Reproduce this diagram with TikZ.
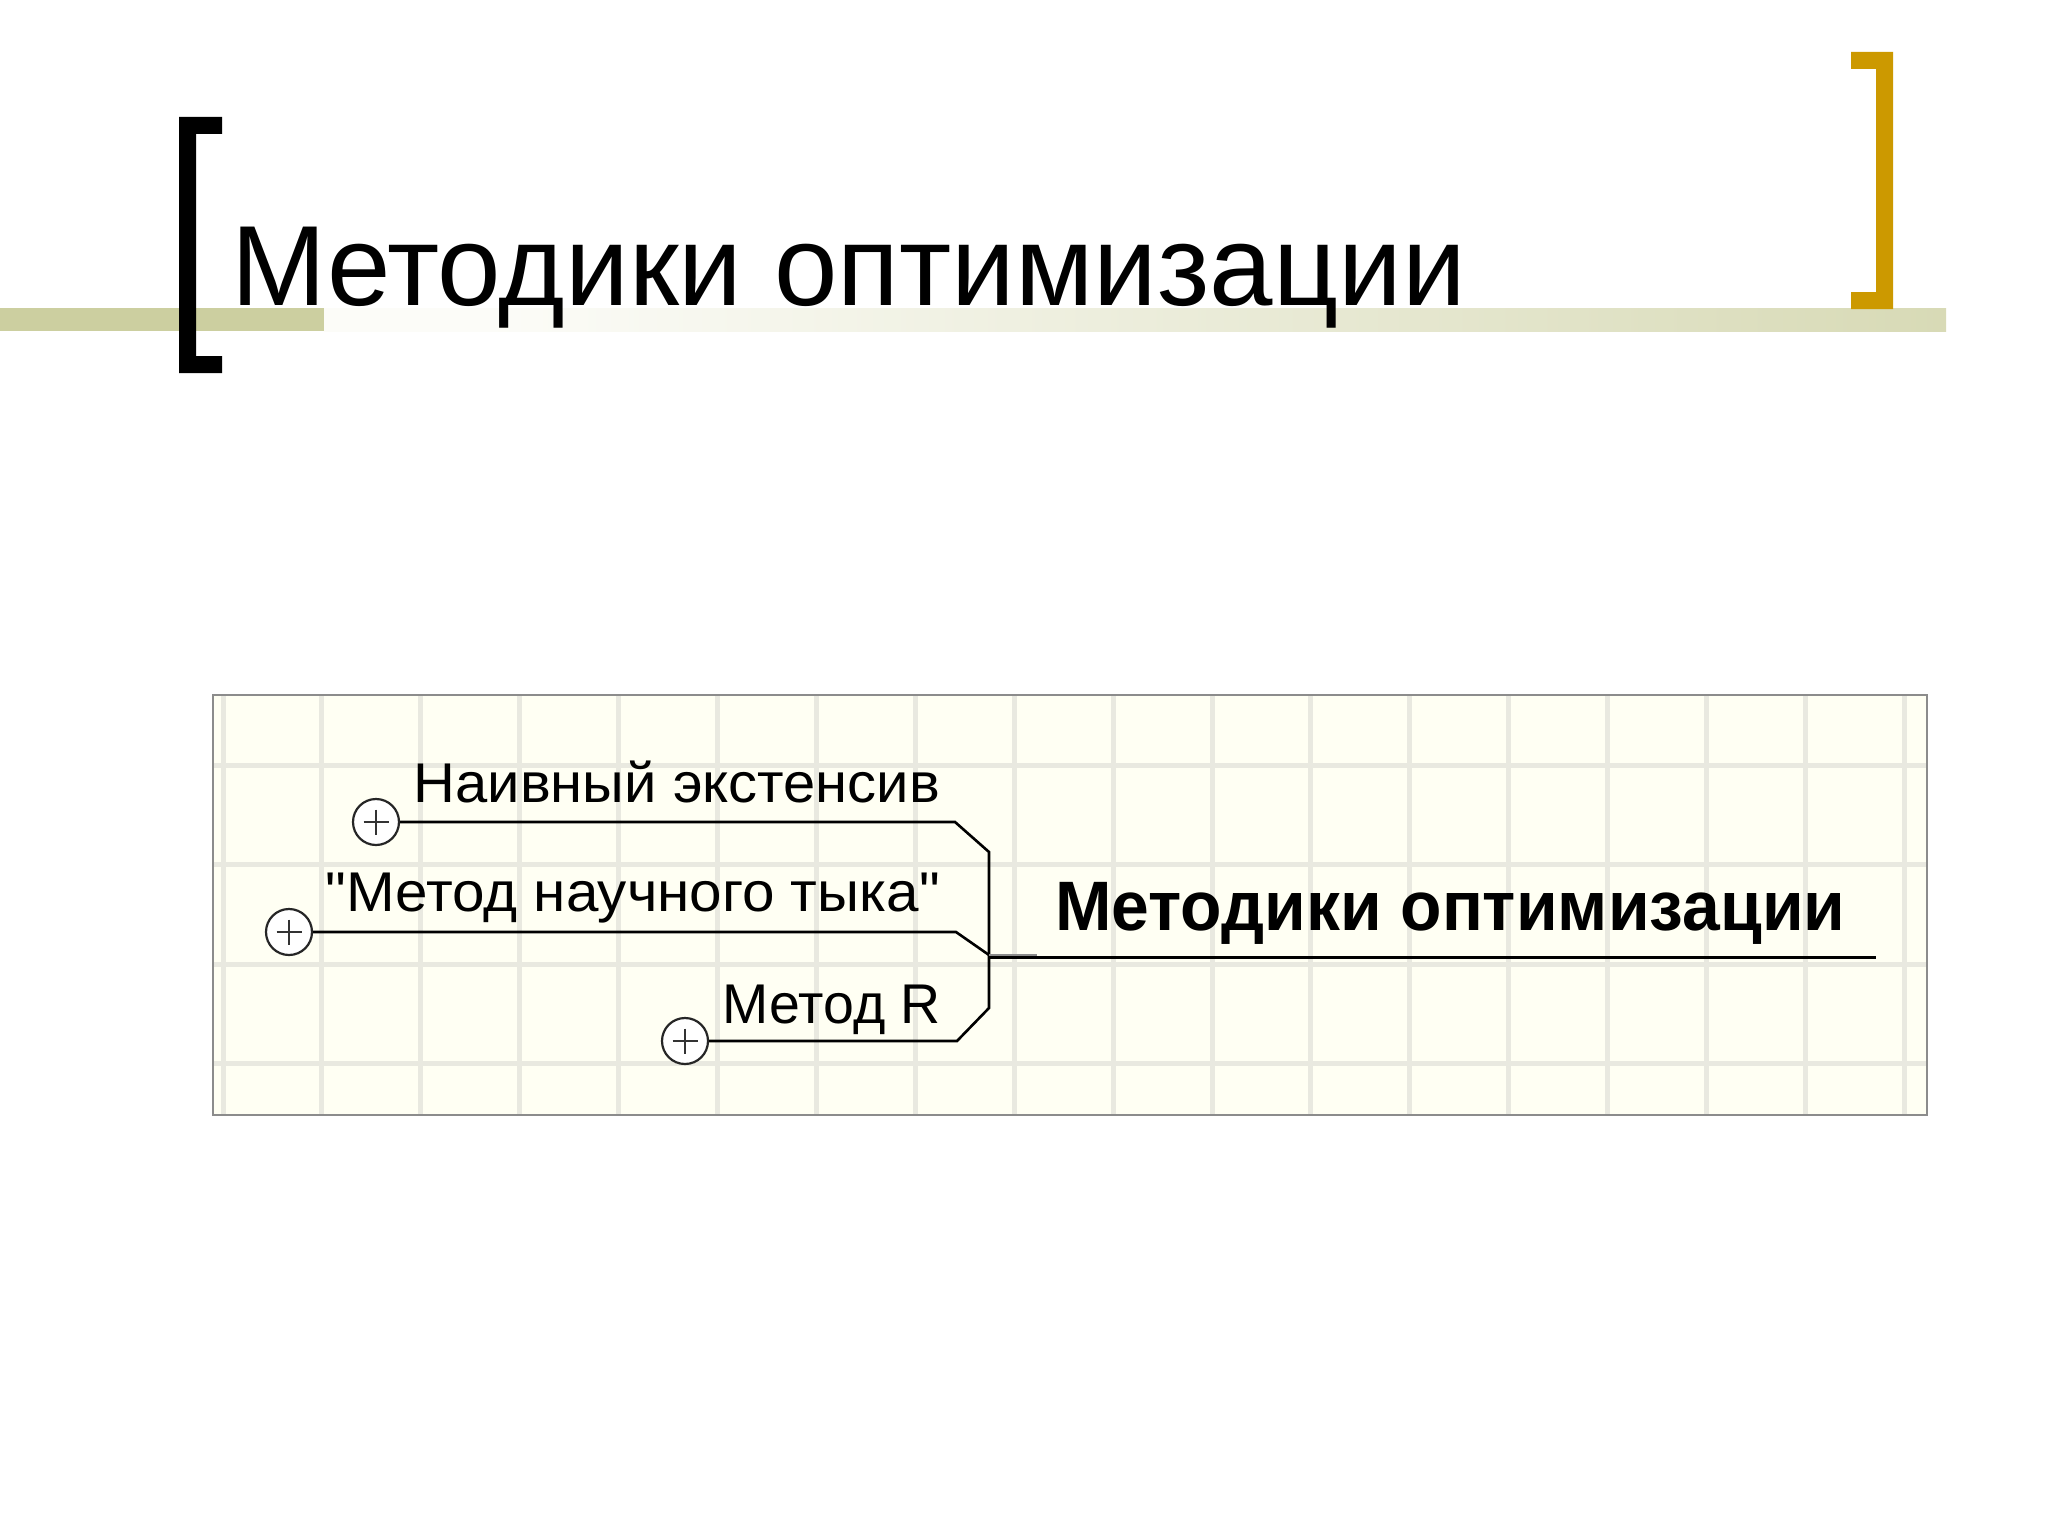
\documentclass[tikz,border=0pt]{standalone}
\usepackage{fontspec}
\usepackage{graphicx}
\setmainfont{Liberation Sans}
\usetikzlibrary{calc}
\definecolor{olivebar}{RGB}{204,207,160}
\definecolor{goldbr}{RGB}{204,153,0}
\definecolor{gridcol}{RGB}{233,233,224}
\definecolor{paper}{RGB}{255,255,243}
\definecolor{boxborder}{RGB}{140,140,140}
\definecolor{barlight}{RGB}{252,252,248}
\newcommand\sq{\XeTeXglyph\XeTeXglyphindex "quotedbl" \relax}
\pgfdeclarehorizontalshading{barshade}{100bp}{color(0bp)=(barlight); color(30bp)=(barlight); color(55bp)=(olivebar!45!white); color(80bp)=(olivebar!85!white); color(100bp)=(olivebar)}
\tikzset{
  plusnode/.style={circle, draw=black!85, line width=2.2pt, fill=white, minimum size=46pt, inner sep=0pt,
    path picture={\draw[line width=2pt, black!80] ($(path picture bounding box.center)+(-12.5,0)$) -- ++(25,0)
       ($(path picture bounding box.center)+(0,-12.5)$) -- ++(0,25);}},
  conn/.style={line width=2.6pt, black, line join=miter},
  topicline/.style={line width=3pt, black},
  lbl/.style={anchor=base east, inner sep=0pt, font=\fontsize{56}{60}\selectfont},
  mainlbl/.style={anchor=base west, inner sep=0pt, font=\fontsize{70}{76}\selectfont\bfseries},
  titlelbl/.style={anchor=base west, inner sep=0pt, font=\fontsize{114}{120}\selectfont},
}
\begin{document}
\begin{tikzpicture}[x=1pt,y=-1pt]
\useasboundingbox (0,0) rectangle (2048,1536);
\fill[white] (0,0) rectangle (2048,1536);
% title bar
\fill[olivebar] (0,308) rectangle (324,331);
\shade[shading=barshade] (324,308) rectangle (1946,331);
% brackets
\fill[black] (179,117) -- (222,117) -- (222,134) -- (196,134) -- (196,356) -- (222,356) -- (222,373) -- (179,373) -- cycle;
\fill[goldbr] (1893,52) -- (1851,52) -- (1851,69) -- (1876,69) -- (1876,292) -- (1851,292) -- (1851,309) -- (1893,309) -- cycle;
% title
\node[titlelbl] (title) at (231,305) {Методики оптимизации};
% diagram box
\fill[paper] (213,695) rectangle (1927,1115);
\begin{scope}
\clip (213,695) rectangle (1927,1115);
\foreach \k in {0,...,17} {
  \draw[gridcol, line width=5pt] ({223+98.9*\k},695) -- ({223+98.9*\k},1115);
}
\foreach \yy in {765,864,964,1063} {
  \draw[gridcol, line width=5pt] (213,\yy) -- (1927,\yy);
}
\end{scope}
\draw[boxborder, line width=2.5pt] (213,695) rectangle (1927,1115);
% coordinates
\coordinate (b1a) at (955,822);
\coordinate (b1b) at (989,852);
\coordinate (b3b) at (989,1008);
\coordinate (b3a) at (957,1041);
\coordinate (b2a) at (956,932);
\coordinate (hub) at (989,955);
\coordinate (mainL) at (989,957);
\coordinate (mainR) at (1876,957);
% plus nodes
\node[plusnode] (c1) at (376,822) {};
\node[plusnode] (c2) at (289,932) {};
\node[plusnode] (c3) at (685,1041) {};
% labels
\node[lbl] (l1) at (940,802) {\resizebox{526pt}{\height}{Наивный экстенсив}};
\node[lbl] (l2) at (940,911) {\resizebox{614pt}{\height}{\sq Метод научного тыка\sq}};
\node[lbl] (l3) at (941,1023) {\resizebox{218pt}{\height}{Метод R}};
\node[mainlbl] (main) at (1055,930) {\resizebox{790pt}{\height}{Методики оптимизации}};
% connectors
\draw[conn] (c1.east) -- (b1a) -- (b1b) -- (b3b) -- (b3a) -- (c3.east);
\draw[conn] (c2.east) -- (b2a) -- (hub);
\draw[black!45, line width=2.5pt] (hub) -- ++(48,0);
\draw[topicline] (mainL) -- (mainR);
\end{tikzpicture}
\end{document}
